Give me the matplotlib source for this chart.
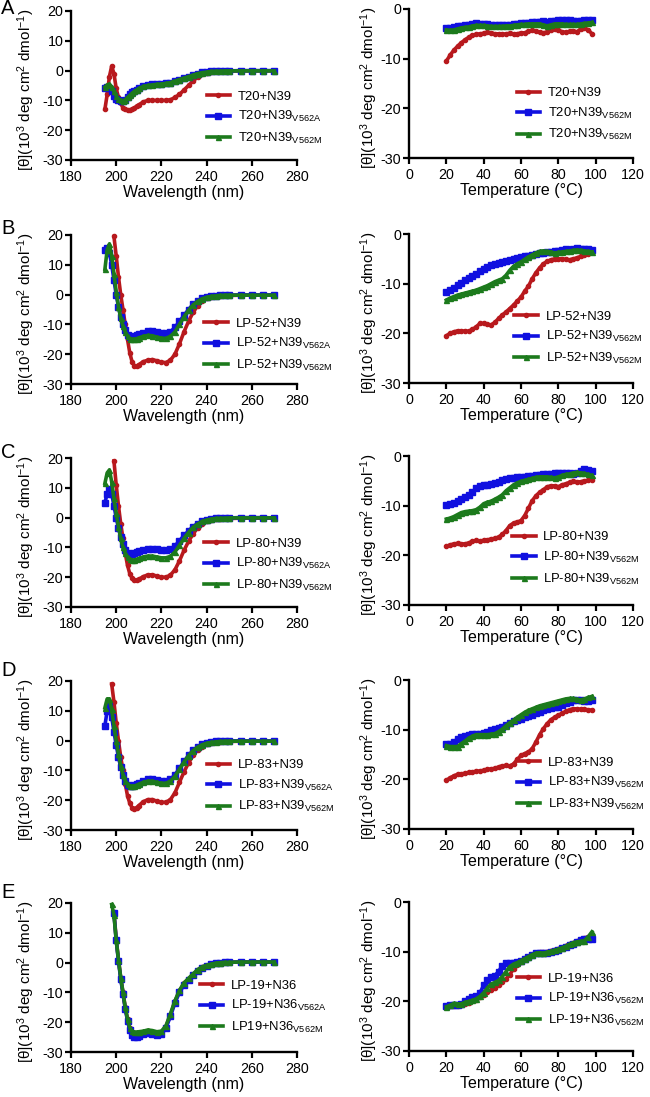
import numpy as np
import matplotlib
matplotlib.use("Agg")
import matplotlib.pyplot as plt

plt.rcParams['font.family'] = ['Liberation Sans', 'DejaVu Sans']
plt.rcParams['mathtext.fontset'] = 'custom'
plt.rcParams['mathtext.rm'] = 'Liberation Sans'
plt.rcParams['mathtext.it'] = 'Liberation Sans'
plt.rcParams['axes.unicode_minus'] = False

N = None
# ---------------- CD spectra (wavelength, nm) ----------------
WL = [195, 196, 197, 198, 199, 200, 201, 202, 203, 204, 205, 206, 207, 208, 209, 210,
      212, 214, 216, 218, 220, 222, 224, 226, 228, 230, 232, 234, 236, 238, 240,
      242, 244, 246, 248, 250, 255, 260, 265, 270]

A_red = [-13, -8, -2, 1.5, -1, -6, -9, -11, -12.5, -13, -13.3, -13.3, -13, -12.5, -12, -11.5,
         -10.5, -10, -10, -10, -10, -10, -9.8, -9, -8, -6.5, -5, -3.5, -2.2, -1.3, -0.8,
         -0.5, -0.3, -0.2, -0.2, -0.2, -0.1, -0.1, -0.1, -0.1]
A_blue = [-6, -5.5, -6, -7, -8.5, -9.5, -10, -10.3, -10.3, -10, -9, -8, -7.3, -6.8, -6.4, -6,
          -5.3, -4.8, -4.6, -4.5, -4.5, -4.3, -4, -3.5, -3, -2.5, -2, -1.5, -1, -0.6, -0.4,
          -0.3, -0.2, -0.1, -0.1, -0.1, 0, 0, 0, 0]
A_green = [-5.5, -4.8, -4.5, -5.5, -7, -8.5, -9.5, -10, -10.2, -9.8, -9, -8.3, -7.6, -7, -6.5, -6,
           -5.3, -5, -4.8, -4.6, -4.5, -4.3, -4, -3.5, -3, -2.5, -2, -1.5, -1, -0.7, -0.5,
           -0.3, -0.2, -0.2, -0.1, -0.1, -0.1, -0.1, -0.1, -0.1]

B_red = [N, N, N, N, 19.5, 13, 6, 0, -5, -10, -15, -19.5, -22.5, -23.8, -24, -23.5,
         -22.5, -22, -21.8, -22.2, -22.7, -22.8, -22, -20, -16.5, -12.5, -9, -6, -3.8, -2.2, -1.3,
         -0.8, -0.5, -0.4, -0.3, -0.3, -0.2, -0.2, -0.2, -0.2]
B_blue = [15, 15.5, 14, 10, 5, 0, -4, -7.5, -10, -12, -13.5, -14.2, -14.3, -14, -13.5, -13.2,
          -12.8, -12.3, -12.3, -12.6, -12.8, -12.9, -12.5, -11, -9, -7, -5, -3.3, -2.2, -1.3, -0.9,
          -0.6, -0.4, -0.3, -0.2, -0.2, -0.1, -0.1, -0.1, -0.1]
B_green = [8.5, 15, 17, 13, 7, 1, -4, -8, -10.5, -12.5, -14, -14.8, -15, -15, -14.8, -14.5,
           -14, -13.7, -13.8, -14.3, -14.6, -14.7, -14, -12.5, -10, -7.5, -5.3, -3.5, -2.3, -1.4, -0.9,
           -0.6, -0.4, -0.3, -0.2, -0.2, -0.2, -0.2, -0.2, -0.2]

C_red = [N, N, N, N, 19, 11, 4, -2, -7, -12, -16, -18.8, -20.3, -21, -21, -20.7,
         -19.8, -19.2, -19.2, -19.6, -20, -20, -19.3, -17.5, -14.5, -11, -8, -5.5, -3.5, -2, -1.2,
         -0.8, -0.5, -0.4, -0.3, -0.3, -0.2, -0.2, -0.2, -0.2]
C_blue = [5, 8, 9.5, 8, 4, 0, -3.5, -6.5, -9, -10.8, -11.8, -12.2, -12.2, -12, -11.6, -11.3,
          -10.8, -10.5, -10.5, -10.7, -10.9, -11, -10.6, -9.5, -7.8, -6, -4.5, -3, -2, -1.2, -0.8,
          -0.5, -0.3, -0.2, -0.1, -0.1, 0, 0, 0, -0.1]
C_green = [11.5, 15, 16, 12, 6.5, 1.5, -3, -7, -10, -12, -13.3, -14, -14.2, -14.2, -14, -13.7,
           -13.2, -12.9, -12.9, -13.2, -13.5, -13.5, -13, -11.5, -9.3, -7, -5, -3.3, -2.2, -1.3, -0.8,
           -0.5, -0.3, -0.2, -0.2, -0.1, -0.1, -0.1, -0.1, -0.1]

D_red = [N, N, N, 19, 13, 6, 0, -5.5, -10, -14.5, -18.5, -21, -22.5, -22.8, -22.5, -21.8,
         -20.5, -19.8, -19.8, -20.3, -20.7, -20.7, -19.8, -17.5, -14, -10.5, -7.5, -5, -3.2, -2, -1.2,
         -0.8, -0.5, -0.4, -0.3, -0.3, -0.2, -0.2, -0.2, -0.2]
D_blue = [5, 10, 11.5, 8, 3, -1.5, -5.5, -9, -11.5, -13.5, -14.8, -15.3, -15.3, -15, -14.6, -14.2,
          -13.5, -13, -13, -13.3, -13.6, -13.7, -13, -11.5, -9.3, -7, -5, -3.3, -2.2, -1.3, -0.8,
          -0.5, -0.3, -0.2, -0.2, -0.1, -0.1, -0.1, -0.1, -0.1]
D_green = [11, 14, 14, 10.5, 5, 0, -4.5, -8.5, -11.5, -13.5, -14.7, -15.2, -15.3, -15.2, -15, -14.6,
           -14, -13.6, -13.6, -14, -14.3, -14.3, -13.6, -12, -9.6, -7.2, -5.1, -3.4, -2.2, -1.4, -0.9,
           -0.6, -0.4, -0.3, -0.2, -0.2, -0.2, -0.2, -0.2, -0.2]

E_red = [N, N, N, N, 17, 8, 1, -5, -10, -15, -19, -22, -23.5, -24, -24, -23.8,
         -23.5, -23, -23.3, -23.8, -23.6, -21.5, -17.5, -13, -9.5, -7, -5.5, -4, -2.5, -1.5, -1,
         -0.5, -0.2, 0, 0.1, 0.1, 0.2, 0.2, 0.2, 0.2]
E_blue = [N, N, N, N, 16.5, 7.5, 0.5, -5.5, -10.5, -15.5, -19.5, -22.7, -24.2, -24.8, -24.8, -24.5,
          -24, -23.5, -23.8, -24.3, -24, -22, -18, -13.5, -10, -7.5, -5.8, -4.3, -2.8, -1.7, -1.1,
          -0.6, -0.3, 0, 0.1, 0.1, 0.2, 0.2, 0.2, 0.2]
E_green = [N, N, N, 19.5, 16, 7.5, 1, -5, -10, -15, -19, -21.8, -23, -23.3, -23.3, -23.2,
           -23, -22.6, -22.8, -23.2, -23, -21.2, -17.2, -12.8, -9.3, -6.8, -5.3, -3.8, -2.4, -1.4, -0.9,
           -0.5, -0.2, 0, 0.1, 0.1, 0.2, 0.2, 0.2, 0.2]

# ---------------- thermal melts (temperature, degC) ----------------
TEMP = [20, 22, 24, 26, 28, 30, 32, 34, 36, 38, 40, 42, 44, 46, 48, 50, 52, 54, 56, 58,
        60, 62, 64, 66, 68, 70, 72, 74, 76, 78, 80, 82, 84, 86, 88, 90, 92, 94, 96, 98]

Am_red = [-10.5, -9.3, -8.3, -7.5, -6.8, -6.2, -5.7, -5.3, -5.1, -5, -4.9, -4.7, -4.8, -5, -5, -5.1, -5, -4.9, -5, -5,
          -4.8, -4.8, -4.5, -4.3, -4.5, -4.7, -4.8, -4.6, -4.3, -4, -4.2, -4.6, -4.7, -4.5, -4.4, -4.6, -4, -3.8, -4.2, -5]
Am_blue = [-3.8, -3.8, -3.6, -3.5, -3.4, -3.3, -3.2, -3, -2.9, -3, -3, -3.1, -3.2, -3.3, -3.3, -3.3, -3.2, -3.2, -3.1, -3,
           -2.9, -2.9, -2.8, -2.7, -2.6, -2.6, -2.5, -2.6, -2.5, -2.4, -2.3, -2.3, -2.2, -2.3, -2.4, -2.5, -2.4, -2.3, -2.3, -2.2]
Am_green = [-4.2, -4.3, -4.2, -4, -3.8, -3.7, -3.6, -3.4, -3.3, -3.3, -3.3, -3.4, -3.5, -3.5, -3.5, -3.5, -3.4, -3.4, -3.3, -3.2,
            -3.1, -3.1, -3, -3, -3, -3, -3.2, -3.4, -3.2, -3, -3, -3, -3.1, -3.1, -3.1, -3.1, -3, -2.9, -2.8, -2.7]

Bm_red = [-20.5, -20, -19.7, -19.5, -19.6, -19.5, -19.6, -19.2, -18.7, -18, -18, -18.2, -18.3, -17.8, -17, -16.3, -15.7, -15, -14.3, -13.5,
          -12.7, -11.5, -10.5, -9, -7.8, -6.8, -6, -5.5, -5.2, -5, -5, -5, -5.1, -5.2, -5, -4.8, -4.5, -4.2, -4, -3.6]
Bm_blue = [-11.7, -11.3, -10.8, -10.3, -9.8, -9.3, -8.9, -8.5, -8, -7.5, -7, -6.6, -6.2, -6, -5.8, -5.7, -5.5, -5.3, -5.1, -4.8,
           -4.6, -4.5, -4.4, -4.3, -4.1, -3.9, -3.8, -3.7, -3.6, -3.5, -3.5, -3.3, -3.1, -3.2, -3, -2.8, -3, -3.1, -3.1, -3.3]
Bm_green = [-13.3, -12.9, -12.6, -12.3, -12.1, -11.9, -11.7, -11.5, -11.3, -11, -10.7, -10.4, -10, -9.6, -9.3, -9, -8.3, -7.3, -6.5, -6,
            -5.6, -5.1, -4.6, -4.2, -3.8, -3.5, -3.4, -3.5, -3.6, -3.8, -3.7, -3.6, -3.5, -3.4, -3.3, -3.2, -3.3, -3.4, -3.5, -3.6]

Cm_red = [-18.2, -17.9, -17.7, -17.6, -17.7, -17.7, -17.5, -17.2, -17, -17.1, -17, -16.9, -16.7, -16.6, -16.3, -15.8, -15, -14, -13.5, -13.3,
          -13, -12, -10.5, -9, -8, -7.3, -6.8, -6.2, -6, -6, -6.2, -5.8, -5.6, -5.3, -5.1, -5.2, -5.2, -5, -4.9, -4.8]
Cm_blue = [-9.8, -9.7, -9.4, -9, -8.6, -8.2, -7.8, -7.2, -6.5, -6, -5.8, -5.8, -5.7, -5.5, -5.2, -4.9, -4.6, -4.5, -4.4, -4.3,
           -4.3, -4.2, -4.1, -4, -3.9, -3.8, -3.7, -3.7, -3.6, -3.5, -3.5, -3.5, -3.5, -3.5, -3.6, -3.4, -3, -2.7, -2.8, -3.1]
Cm_green = [-12.7, -12.5, -12.2, -11.8, -11.4, -11.2, -11.1, -11, -10.8, -10.3, -9.6, -9.3, -9.1, -8.7, -8.3, -7.8, -7, -6.4, -5.8, -5.4,
            -5.1, -4.9, -4.7, -4.5, -4.3, -4.2, -4.2, -4.2, -4.3, -4.4, -4.2, -3.9, -3.7, -3.6, -3.4, -3.3, -3.4, -3.5, -3.7, -3.9]

Dm_red = [-20.2, -19.7, -19.3, -19, -18.9, -18.8, -18.6, -18.5, -18.4, -18.3, -18.2, -18, -17.9, -17.8, -17.5, -17.3, -17.2, -17.3, -16.9, -16,
          -15.2, -14.8, -14.5, -13.8, -12.5, -11, -9.8, -8.8, -8, -7.5, -7.1, -6.7, -6.3, -6, -5.8, -5.8, -5.9, -5.9, -6, -6.1]
Dm_blue = [-12.9, -12.8, -12.4, -11.9, -11.5, -11.2, -11, -10.9, -10.9, -10.9, -10.7, -10.4, -10.1, -9.9, -9.7, -9.4, -9, -8.6, -8.3, -8,
           -7.8, -7.5, -7.2, -7, -6.7, -6.4, -6.1, -5.9, -5.7, -5.5, -5.4, -5.1, -4.7, -4.4, -4.1, -4, -4, -4.2, -4.3, -4.1]
Dm_green = [-13.2, -13.4, -13.4, -13.4, -12.8, -12.3, -11.7, -11.3, -11, -11, -11, -11, -10.9, -10.8, -10.4, -9.9, -9.2, -8.6, -8.1, -7.5,
            -7, -6.5, -6.1, -5.8, -5.5, -5.2, -5, -4.8, -4.6, -4.4, -4.2, -4, -3.8, -3.7, -3.7, -3.9, -4, -3.8, -3.5, -3.3]

Em_red = [-21.2, -21, -20.9, -21, -20.8, -20.5, -20.3, -20, -19.7, -19.2, -18.7, -18.2, -17.8, -17.4, -16.8, -16.2, -15.5, -14.6, -13.5, -12.6,
          -12, -11.5, -11, -10.6, -10.3, -10.1, -10.1, -10, -9.8, -9.6, -9.4, -9.2, -8.8, -8.4, -8.2, -7.9, -7.6, -7.3, -7, -6.8]
Em_blue = [-21, -20.8, -20.7, -20.8, -20.5, -19.9, -19.5, -19.2, -18.9, -18.3, -16.8, -15.8, -15.2, -14.8, -14, -12.8, -12.3, -12.3, -12.3, -12,
           -11.8, -11.4, -11, -10.6, -10.3, -10.2, -10.3, -10.2, -10, -9.8, -9.6, -9.3, -9, -8.7, -8.4, -8, -7.7, -7.4, -7.4, -7.5]
Em_green = [-21.1, -20.8, -20.4, -20.5, -20.5, -20.2, -20, -19.8, -19.5, -19, -18.3, -17.3, -16.5, -16.2, -15.8, -15, -14, -13, -12.5, -12.2,
            -11.8, -11.4, -11, -10.6, -10.3, -10.2, -10.3, -10.1, -9.9, -9.7, -9.5, -9.2, -8.9, -8.5, -8.2, -8, -7.9, -7.8, -7, -6]

PANEL_LETTERS = ['A', 'B', 'C', 'D', 'E']
LEFT_LABELS = [
    ['T20+N39', 'T20+N39$_{\\mathrm{V562A}}$', 'T20+N39$_{\\mathrm{V562M}}$'],
    ['LP-52+N39', 'LP-52+N39$_{\\mathrm{V562A}}$', 'LP-52+N39$_{\\mathrm{V562M}}$'],
    ['LP-80+N39', 'LP-80+N39$_{\\mathrm{V562A}}$', 'LP-80+N39$_{\\mathrm{V562M}}$'],
    ['LP-83+N39', 'LP-83+N39$_{\\mathrm{V562A}}$', 'LP-83+N39$_{\\mathrm{V562M}}$'],
    ['LP-19+N36', 'LP-19+N36$_{\\mathrm{V562A}}$', 'LP19+N36$_{\\mathrm{V562M}}$'],
]
RIGHT_LABELS = [
    ['T20+N39', 'T20+N39$_{\\mathrm{V562M}}$', 'T20+N39$_{\\mathrm{V562M}}$'],
    ['LP-52+N39', 'LP-52+N39$_{\\mathrm{V562M}}$', 'LP-52+N39$_{\\mathrm{V562M}}$'],
    ['LP-80+N39', 'LP-80+N39$_{\\mathrm{V562M}}$', 'LP-80+N39$_{\\mathrm{V562M}}$'],
    ['LP-83+N39', 'LP-83+N39$_{\\mathrm{V562M}}$', 'LP-83+N39$_{\\mathrm{V562M}}$'],
    ['LP-19+N36', 'LP-19+N36$_{\\mathrm{V562M}}$', 'LP-19+N36$_{\\mathrm{V562M}}$'],
]
SPECTRA = [(A_red, A_blue, A_green), (B_red, B_blue, B_green), (C_red, C_blue, C_green),
           (D_red, D_blue, D_green), (E_red, E_blue, E_green)]
MELTS = [(Am_red, Am_blue, Am_green), (Bm_red, Bm_blue, Bm_green), (Cm_red, Cm_blue, Cm_green),
         (Dm_red, Dm_blue, Dm_green), (Em_red, Em_blue, Em_green)]

# ---------------- layout (pixels) ----------------
W, H = 650, 1097
fig = plt.figure(figsize=(W / 100, H / 100), dpi=100)

LEFT_TOPS = [11, 235, 458, 681, 903]
RIGHT_TOPS = [9, 234, 456, 680, 902]
LETTER_Y = [9, 228, 452, 671, 893]
PH = 149
LEFT_X, LEFT_W = 71, 226
RIGHT_X, RIGHT_W = 409, 224
LEFT_LEG = [(0.60, 0.28), (0.59, 0.26), (0.59, 0.28), (0.60, 0.29), (0.57, 0.30)]
RIGHT_LEG = [(0.48, 0.29), (0.47, 0.30), (0.46, 0.31), (0.48, 0.30), (0.48, 0.34)]

COLORS = ['#B8191D', '#1010E0', '#1C7A1C']
MARKERS = ['o', 's', '^']
MSIZES = [3.0, 4.2, 3.6]
YLAB = '[θ](10$^3$ deg cm$^2$ dmol$^{-1}$)'


def style_axes(ax):
    for s in ['top', 'right']:
        ax.spines[s].set_visible(False)
    for s in ['left', 'bottom']:
        ax.spines[s].set_linewidth(1.7)
    ax.tick_params(direction='out', length=4, width=1.6, labelsize=10.3, pad=1.5)
    ax.tick_params(axis='x', pad=3)


def add_ax(x, top, w):
    return fig.add_axes([x / W, 1 - (top + PH) / H, w / W, PH / H])


LEG_KW = dict(loc='center left', frameon=False, fontsize=9.4, handlelength=1.8,
              handletextpad=0.6, labelspacing=0.5, borderpad=0, borderaxespad=0)

for i in range(5):
    # left: CD spectra
    ax = add_ax(LEFT_X, LEFT_TOPS[i], LEFT_W)
    wl = np.array(WL, dtype=float)
    for j, ser in enumerate(SPECTRA[i]):
        y = np.array([np.nan if v is None else v for v in ser], dtype=float)
        ax.plot(wl, y, color=COLORS[j], marker=MARKERS[j], ms=MSIZES[j], lw=2.6,
                label=LEFT_LABELS[i][j], clip_on=False)
    ax.set_xlim(180, 280)
    ax.set_ylim(-30, 20)
    ax.set_xticks(range(180, 281, 20))
    ax.set_yticks(range(-30, 21, 10))
    style_axes(ax)
    ax.set_xlabel('Wavelength (nm)', fontsize=11.5, labelpad=1)
    ax.set_ylabel(YLAB, fontsize=11.0)
    ax.yaxis.set_label_coords((37 - LEFT_X) / LEFT_W, 0.47)
    ax.legend(bbox_to_anchor=LEFT_LEG[i], **LEG_KW)
    fig.text(1 / W, 1 - LETTER_Y[i] / H, PANEL_LETTERS[i], fontsize=14.5,
             ha='left', va='center')

    # right: thermal melts
    ax2 = add_ax(RIGHT_X, RIGHT_TOPS[i], RIGHT_W)
    t = np.array(TEMP, dtype=float)
    for j, ser in enumerate(MELTS[i]):
        ax2.plot(t, np.array(ser, dtype=float), color=COLORS[j], marker=MARKERS[j],
                 ms=MSIZES[j], lw=2.6, label=RIGHT_LABELS[i][j])
    ax2.set_xlim(0, 120)
    ax2.set_ylim(-30, 0)
    ax2.set_xticks(range(0, 121, 20))
    ax2.set_yticks(range(-30, 1, 10))
    style_axes(ax2)
    ax2.set_xlabel('Temperature (°C)', fontsize=11.5, labelpad=1)
    ax2.set_ylabel(YLAB, fontsize=11.0)
    ax2.yaxis.set_label_coords((380 - RIGHT_X) / RIGHT_W, 0.47)
    ax2.legend(bbox_to_anchor=RIGHT_LEG[i], **LEG_KW)

fig.savefig('out.png', dpi=100)
